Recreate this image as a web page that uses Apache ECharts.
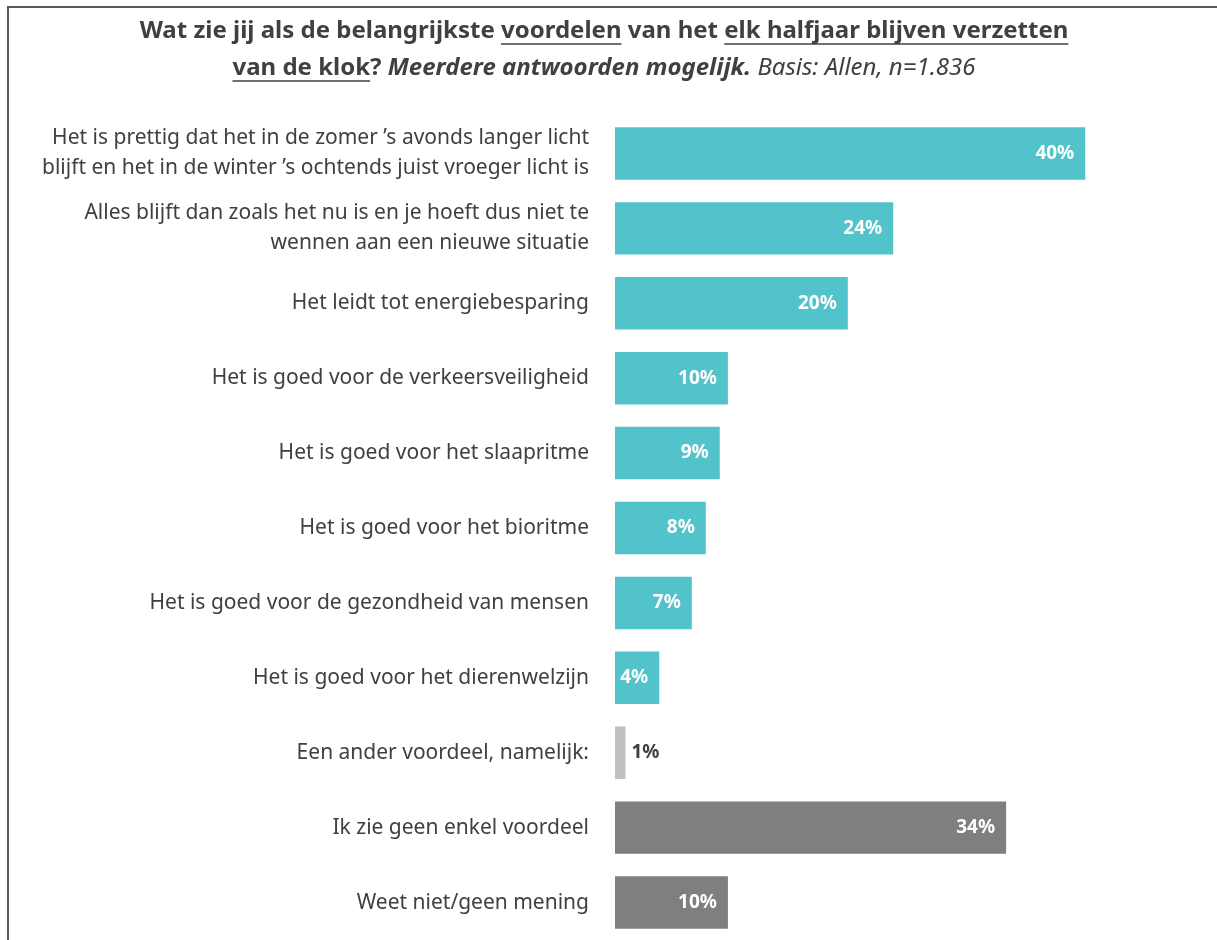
<!DOCTYPE html>
<html>
<head>
<meta charset="utf-8">
<style>
    html,body{margin:0;padding:0;background:#fff;}
    #main{width:1217px;height:940px;}
</style>
<script src="https://cdn.jsdelivr.net/npm/echarts@6/dist/echarts.min.js"></script>
</head>
<body>
<div id="main"></div>
<script>
    // antwoorden (categorieen), van boven naar beneden
    var categories = [
        'Het is prettig dat het in de zomer \u2019s avonds langer licht\nblijft en het in de winter \u2019s ochtends juist vroeger licht is',
        'Alles blijft dan zoals het nu is en je hoeft dus niet te\nwennen aan een nieuwe situatie',
        'Het leidt tot energiebesparing',
        'Het is goed voor de verkeersveiligheid',
        'Het is goed voor het slaapritme',
        'Het is goed voor het bioritme',
        'Het is goed voor de gezondheid van mensen',
        'Het is goed voor het dierenwelzijn',
        'Een ander voordeel, namelijk:',
        'Ik zie geen enkel voordeel',
        'Weet niet/geen mening'
    ];
    // percentages (geschat uit de balklengte, label afgerond)
    var values = [40.4, 23.9, 20.0, 9.7, 9.0, 7.8, 6.6, 3.8, 0.9, 33.6, 9.7];
    // soort antwoord: voordeel / anders / geen
    var answerType = ['voordeel','voordeel','voordeel','voordeel','voordeel','voordeel','voordeel','voordeel','anders','geen','geen'];

    // titelstukken: tekst, stijl, onderstreept
    var titleLine1 = [
        ['Wat zie jij als de belangrijkste ', 'b', false],
        ['voordelen', 'b', true],
        [' van het ', 'b', false],
        ['elk halfjaar blijven verzetten', 'b', true]
    ];
    var titleLine2 = [
        ['van de klok', 'b', true],
        ['? ', 'b', false],
        ['Meerdere antwoorden mogelijk. ', 'bi', false],
        ['Basis: Allen, n=1.836', 'i', false]
    ];

    var typeColor = {voordeel:'#53C3CB', anders:'#BFBFBF', geen:'#7F7F7F'};
    var textColor = '#404040';
    var fontFam = '"Noto Sans", sans-serif';
    var titleSize = 24;
    var fonts = {
        b: {fontWeight:'bold', fontStyle:'normal'},
        bi:{fontWeight:'bold', fontStyle:'italic'},
        i: {fontWeight:'normal', fontStyle:'italic'}
    };

    function fontStr(f){
        return fonts[f].fontStyle + ' ' + fonts[f].fontWeight + ' ' + titleSize + 'px ' + fontFam;
    }
    var ctx = document.createElement('canvas').getContext('2d');
    function measure(txt, f){
        ctx.font = fontStr(f);
        return ctx.measureText(txt).width;
    }

    // titel als losse tekststukken met onderstreping
    function titleGraphics(line, cx, y){
        var els = [];
        var total = 0;
        line.forEach(function(s){ total += measure(s[0], s[1]); });
        var x = cx - total/2;
        line.forEach(function(s){
            var w = measure(s[0], s[1]);
            els.push({
                type:'text', left:x, top:y, silent:true,
                style:{text:s[0], fill:textColor, font:fontStr(s[1])}
            });
            if(s[2]){
                els.push({
                    type:'line', silent:true,
                    shape:{x1:x, y1:y+titleSize+1, x2:x+w, y2:y+titleSize+1},
                    style:{stroke:textColor, lineWidth:1.5}
                });
            }
            x += w;
        });
        return els;
    }

    var graphics = [{
        type:'rect', silent:true,
        shape:{x:8, y:7, width:1400, height:1100},
        style:{fill:'none', stroke:'#595959', lineWidth:2}
    }];
    graphics = graphics.concat(titleGraphics(titleLine1, 604, 19));
    graphics = graphics.concat(titleGraphics(titleLine2, 604, 56));

    var seriesData = values.map(function(v, i){
        var t = answerType[i];
        var item = {value:v, itemStyle:{color:typeColor[t]}};
        if(t === 'anders'){
            item.label = {position:'right', distance:6, color:textColor};
        }
        return item;
    });

    var chart = echarts.init(document.getElementById('main'));
    var option = {
        backgroundColor:'#fff',
        animation:false,
        graphic:graphics,
        grid:{left:615, right:20, top:116, bottom:0, containLabel:false},
        xAxis:{
            type:'value', min:0, max:50, show:false
        },
        yAxis:{
            type:'category', inverse:true, data:categories,
            axisLine:{show:false}, axisTick:{show:false},
            axisLabel:{
                margin:26, color:textColor, fontSize:21, lineHeight:30,
                fontFamily:fontFam, align:'right'
            }
        },
        series:[{
            type:'bar',
            data:seriesData,
            barWidth:'70%',
            label:{
                show:true, position:'insideRight', distance:11,
                color:'#fff', fontWeight:'bold', fontSize:19, fontFamily:fontFam,
                formatter:function(p){ return Math.round(p.value) + '%'; }
            }
        }]
    };
    chart.setOption(option);
</script>
</body>
</html>
